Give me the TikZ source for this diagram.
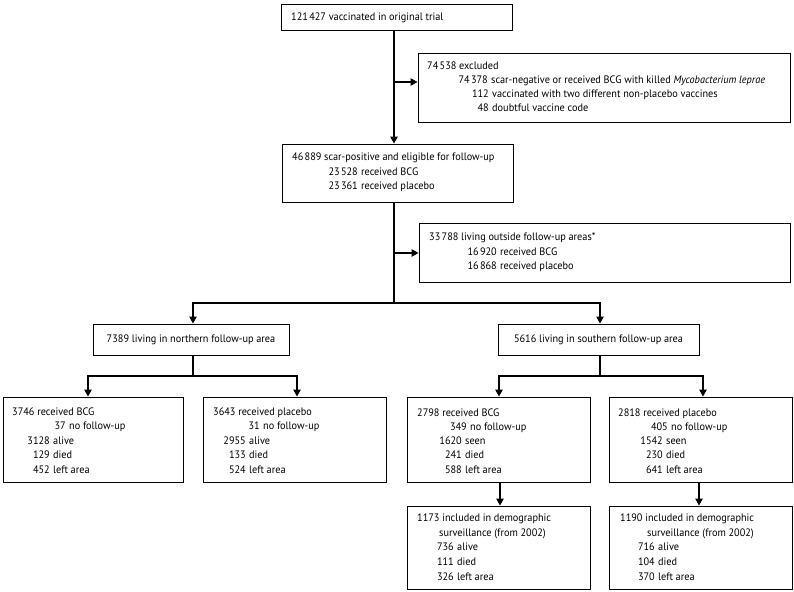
\documentclass[tikz,border=0pt]{standalone}
\usepackage{fontspec}
\setmainfont{PT Sans}[FakeStretch=0.95]
\usetikzlibrary{arrows.meta}
\newcommand{\ts}{\hspace{0.12em}}
\newcommand{\tl}[5]{\node[nm] (#1n) at (#2,#3) {#4}; \node[tx] (#1t) at ([xshift=3pt]#1n.mid east) {#5};}
\begin{document}
\begin{tikzpicture}[x=1pt,y=-1pt, font=\fontsize{10.8}{13}\selectfont,
 box/.style={draw, line width=1pt, inner sep=0pt},
 ln/.style={line width=1.2pt},
 arr/.style={ln, -{Triangle[length=7pt,width=7.5pt]}},
 tx/.style={inner sep=0pt, anchor=mid west},
 nm/.style={inner sep=0pt, anchor=mid east}]
\useasboundingbox (0,0) rectangle (794,591);
% boxes
\node[box, minimum width=231, minimum height=26] (b1) at (396.5,18) {};
\node[box, minimum width=372, minimum height=68] (bex) at (604,88) {};
\node[box, minimum width=231, minimum height=58] (b2) at (397.5,173) {};
\node[box, minimum width=371, minimum height=59] (bout) at (604.5,252.5) {};
\node[box, minimum width=196, minimum height=31] (bn) at (191,339.5) {7389 living in northern follow-up area};
\node[box, minimum width=201, minimum height=31] (bs) at (598.5,339.5) {5616 living in southern follow-up area};
\node[box, minimum width=180, minimum height=85] (bA) at (93,439.5) {};
\node[box, minimum width=183, minimum height=85] (bB) at (294.5,439.5) {};
\node[box, minimum width=183, minimum height=85] (bC) at (498.5,439.5) {};
\node[box, minimum width=183, minimum height=85] (bD) at (700.5,439.5) {};
\node[box, minimum width=183, minimum height=83] (bE) at (498.5,547.5) {};
\node[box, minimum width=183, minimum height=83] (bF) at (700.5,547.5) {};
% texts
\node[tx] (t1) at (291,18) {121\ts427 vaccinated in original trial};
\node[tx] (ex1) at (427,67) {74\ts538 excluded};
\tl{ex2}{488}{81}{74\ts378}{scar-negative or received BCG with killed \textit{Mycobacterium leprae}}
\tl{ex3}{489}{95}{112}{vaccinated with two different non-placebo vaccines}
\tl{ex4}{489}{109}{48}{doubtful vaccine code}
\node[tx] (e1) at (292,158) {46\ts889 scar-positive and eligible for follow-up};
\tl{e2}{358}{173}{23\ts528}{received BCG}
\tl{e3}{358}{187}{23\ts361}{received placebo}
\node[tx] (o1) at (429,238) {33\ts788 living outside follow-up areas*};
\tl{o2}{497}{253}{16\ts920}{received BCG}
\tl{o3}{497}{267}{16\ts868}{received placebo}
% box A
\node[tx] (a1) at (12,413) {3746 received BCG};
\tl{a2}{66}{427}{37}{no follow-up}
\tl{a3}{50}{442}{3128}{alive}
\tl{a4}{50}{456}{129}{died}
\tl{a5}{50}{471}{452}{left area}
% box B
\node[tx] (p1) at (213,413) {3643 received placebo};
\tl{p2}{260}{427}{31}{no follow-up}
\tl{p3}{246}{442}{2955}{alive}
\tl{p4}{246}{456}{133}{died}
\tl{p5}{246}{471}{524}{left area}
% box C
\node[tx] (c1) at (417,414) {2798 received BCG};
\tl{c2}{467}{428}{349}{no follow-up}
\tl{c3}{462}{442}{1620}{seen}
\tl{c4}{462}{456}{241}{died}
\tl{c5}{462}{471}{588}{left area}
% box D
\node[tx] (d1) at (618,414) {2818 received placebo};
\tl{d2}{668}{428}{405}{no follow-up}
\tl{d3}{663}{442}{1542}{seen}
\tl{d4}{663}{456}{230}{died}
\tl{d5}{663}{471}{641}{left area}
% box E
\node[tx] (s1) at (417,519) {1173 included in demographic};
\node[tx] (s2) at (439,534) {surveillance (from 2002)};
\tl{s3}{454}{548}{736}{alive}
\tl{s4}{454}{563}{111}{died}
\tl{s5}{454}{578}{326}{left area}
% box F
\node[tx] (f1) at (620,519) {1190 included in demographic};
\node[tx] (f2) at (647,534) {surveillance (from 2002)};
\tl{f3}{655}{548}{716}{alive}
\tl{f4}{655}{563}{104}{died}
\tl{f5}{655}{578}{370}{left area}
% junction coordinates
\coordinate (j1) at (394,0);
\coordinate (jex) at (394,82);
\coordinate (jout) at (394,253);
\coordinate (jm) at (394,303);
\coordinate (xn) at (193,0);
\coordinate (xs) at (600,0);
\coordinate (jn) at (193,376);
\coordinate (js) at (600,376);
\coordinate (xa) at (88,0);
\coordinate (xb) at (297,0);
\coordinate (xc) at (499,0);
\coordinate (xd) at (703,0);
\coordinate (xe) at (500,0);
\coordinate (xf) at (699,0);
% connectors
\draw[arr] (b1.south -| j1) -- (b2.north -| j1);
\draw[arr] (jex) -- (bex.west |- jex);
\draw[ln] (b2.south -| j1) -- (jm);
\draw[arr] (jout) -- (bout.west |- jout);
\draw[arr] (jm) -| (bn.north -| xn);
\draw[arr] (jm) -| (bs.north -| xs);
\draw[ln] (bn.south -| xn) -- (jn);
\draw[arr] (jn) -| (bA.north -| xa);
\draw[arr] (jn) -| (bB.north -| xb);
\draw[ln] (bs.south -| xs) -- (js);
\draw[arr] (js) -| (bC.north -| xc);
\draw[arr] (js) -| (bD.north -| xd);
\draw[arr] (bC.south -| xe) -- (bE.north -| xe);
\draw[arr] (bD.south -| xf) -- (bF.north -| xf);
\end{tikzpicture}
\end{document}
